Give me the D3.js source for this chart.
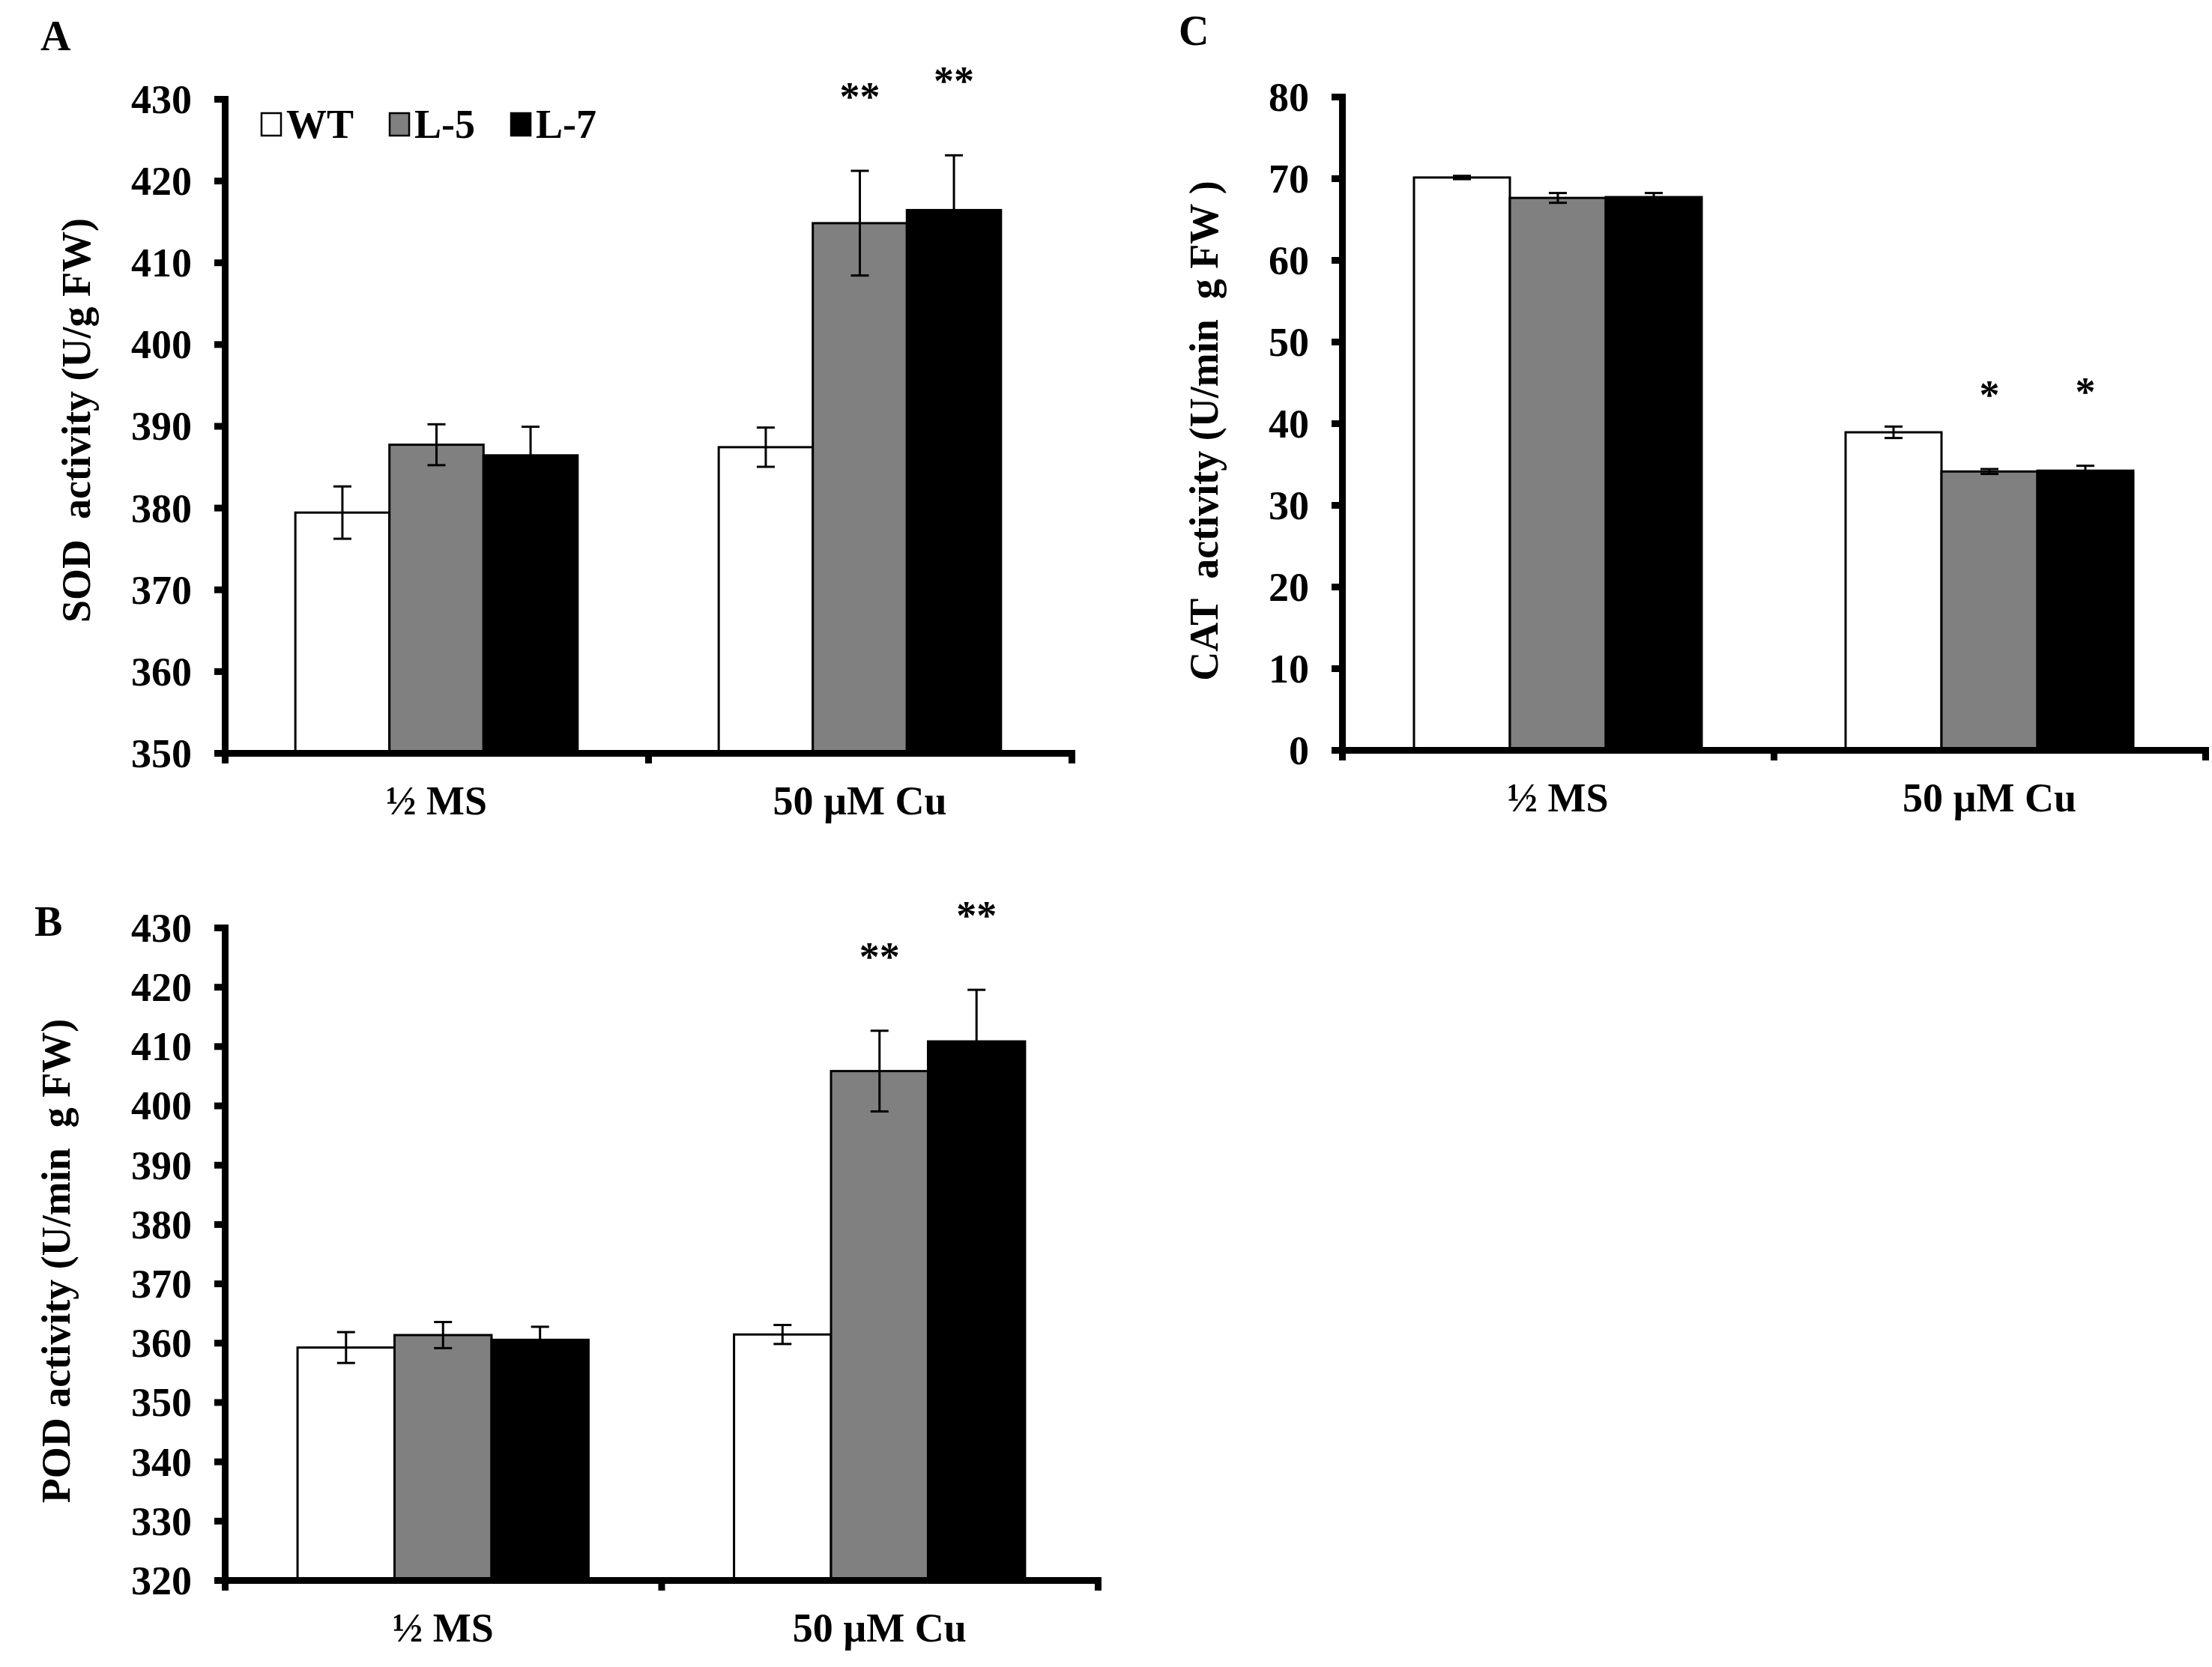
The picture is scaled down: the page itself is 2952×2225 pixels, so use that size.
<!DOCTYPE html>
<html lang="en">
<head>
<meta charset="utf-8">
<style>
  body { margin: 0; background: #fff; }
  svg text { font-family: "Liberation Serif", "Times New Roman", serif; font-weight: bold; fill: #000; }
</style>
</head>
<body>
<svg id="chart" width="2952" height="2225"></svg>
<script src="https://d3js.org/d3.v7.min.js"></script>
<script>
// categories on the x axis and the three lines
var groups = ["½ MS", "50 µM Cu"];
var lines = ["WT", "L-5", "L-7"];

// A - SOD activity, mean and error per [group][line]
var sodMean = [[379.4, 387.7, 386.4], [387.4, 414.8, 416.4]];
var sodErr  = [[3.2, 2.5, 3.5], [2.4, 6.4, 6.7]];
var sodSig  = [["", "", ""], ["", "**", "**"]];
var sodTicks = [350, 360, 370, 380, 390, 400, 410, 420, 430];

// B - POD activity
var podMean = [[359.2, 361.3, 360.5], [361.4, 405.8, 410.8]];
var podErr  = [[2.6, 2.2, 2.2], [1.6, 6.8, 8.7]];
var podSig  = [["", "", ""], ["", "**", "**"]];
var podTicks = [320, 330, 340, 350, 360, 370, 380, 390, 400, 410, 420, 430];

// C - CAT activity
var catMean = [[70.1, 67.6, 67.7], [38.9, 34.1, 34.2]];
var catErr  = [[0.2, 0.6, 0.5], [0.7, 0.3, 0.6]];
var catSig  = [["", "", ""], ["", "*", "*"]];
var catTicks = [0, 10, 20, 30, 40, 50, 60, 70, 80];

var fills = ["#ffffff", "#808080", "#000000"];
var FS = 54;

var svg = d3.select("#chart");
svg.append("rect").attr("width", 2952).attr("height", 2225).attr("fill", "#fff");

function panel(o) {
  var g = svg.append("g");

  var y = d3.scaleLinear()
      .domain([o.ticks[0], o.ticks[o.ticks.length - 1]])
      .range([o.bottom, o.top]);
  var x0 = d3.scaleBand().domain(groups).range([o.left, o.right])
      .paddingInner(1 / 3).paddingOuter(1 / 6);
  var x1 = d3.scaleBand().domain(lines).range([0, x0.bandwidth()]);

  var rows = [];
  groups.forEach(function(gr, i) {
    lines.forEach(function(ln, j) {
      rows.push({group: gr, line: ln, j: j, mean: o.mean[i][j], err: o.err[i][j], sig: o.sig[i][j]});
    });
  });
  var cx = function(d) { return x0(d.group) + x1(d.line) + x1.bandwidth() / 2; };

  // bars
  g.selectAll(".bar").data(rows).enter().append("rect")
      .attr("x", function(d) { return x0(d.group) + x1(d.line); })
      .attr("y", function(d) { return y(d.mean); })
      .attr("width", x1.bandwidth())
      .attr("height", function(d) { return o.bottom - y(d.mean); })
      .attr("fill", function(d) { return fills[d.j]; })
      .attr("stroke", "#000").attr("stroke-width", 3);

  // error bars
  var eb = g.selectAll(".err").data(rows).enter().append("g")
      .attr("stroke", "#000").attr("stroke-width", 3);
  eb.append("line")
      .attr("x1", cx).attr("x2", cx)
      .attr("y1", function(d) { return y(d.mean - d.err); })
      .attr("y2", function(d) { return y(d.mean + d.err); });
  [-1, 1].forEach(function(s) {
    eb.append("line")
        .attr("x1", function(d) { return cx(d) - 12; })
        .attr("x2", function(d) { return cx(d) + 12; })
        .attr("y1", function(d) { return y(d.mean + s * d.err); })
        .attr("y2", function(d) { return y(d.mean + s * d.err); });
  });

  // significance stars
  g.selectAll(".sig").data(rows.filter(function(d) { return d.sig; })).enter().append("text")
      .attr("x", cx)
      .attr("y", function(d) { return y(d.mean + d.err) - 81; })
      .attr("text-anchor", "middle")
      .attr("font-size", FS)
      .text(function(d) { return d.sig; });

  // y axis
  var ya = g.append("g")
      .attr("transform", "translate(" + o.left + ",0)")
      .call(d3.axisLeft(y).tickValues(o.ticks).tickSizeInner(14).tickSizeOuter(0).tickPadding(30));
  ya.attr("font-size", FS);
  ya.select(".domain").attr("stroke-width", 9).attr("stroke-linecap", "square");
  ya.selectAll(".tick line").attr("stroke-width", 9);
  ya.selectAll(".tick text").attr("dy", "0.34em");

  // x axis: ticks at the category boundaries
  var xb = d3.scaleLinear().domain([0, groups.length]).range([o.left, o.right]);
  var xa = g.append("g")
      .attr("transform", "translate(0," + o.bottom + ")")
      .call(d3.axisBottom(xb).tickValues(d3.range(groups.length + 1)).tickSizeInner(14).tickSizeOuter(0).tickFormat(""));
  xa.select(".domain").attr("stroke-width", 9).attr("stroke-linecap", "square");
  xa.selectAll(".tick line").attr("stroke-width", 9);

  // category labels
  g.selectAll(".cat").data(groups).enter().append("text")
      .attr("x", function(d) { return x0(d) + x0.bandwidth() / 2; })
      .attr("y", o.bottom + 82)
      .attr("text-anchor", "middle")
      .attr("font-size", FS)
      .text(function(d) { return d; });

  // axis title
  g.append("text")
      .attr("transform", "translate(" + o.titleX + "," + o.titleY + ") rotate(-90)")
      .attr("text-anchor", "middle")
      .attr("font-size", FS)
      .style("white-space", "pre")
      .text(o.title);

  // panel letter
  g.append("text")
      .attr("x", o.letterX).attr("y", o.letterY)
      .attr("font-size", 56)
      .text(o.letter);

  return g;
}

var gA = panel({
  mean: sodMean, err: sodErr, sig: sodSig, ticks: sodTicks,
  left: 300, right: 1430, top: 132, bottom: 1005,
  title: "SOD  activity (U/g FW)", titleX: 120, titleY: 561,
  letter: "A", letterX: 54, letterY: 67
});

panel({
  mean: podMean, err: podErr, sig: podSig, ticks: podTicks,
  left: 300, right: 1465, top: 1238, bottom: 2109,
  title: "POD activity (U/min  g FW)", titleX: 93, titleY: 1683,
  letter: "B", letterX: 46, letterY: 1249
});

panel({
  mean: catMean, err: catErr, sig: catSig, ticks: catTicks,
  left: 1791, right: 2943, top: 129, bottom: 1001,
  title: "CAT  activity (U/min  g FW )", titleX: 1625, titleY: 575,
  letter: "C", letterX: 1573, letterY: 60
});

// legend (panel A)
var lx = 349;
lines.forEach(function(ln, j) {
  gA.append("rect")
      .attr("x", lx).attr("y", 151).attr("width", 26).attr("height", 30)
      .attr("fill", fills[j]).attr("stroke", "#000").attr("stroke-width", 2.5);
  var t = gA.append("text")
      .attr("x", lx + 33).attr("y", 184)
      .attr("font-size", FS)
      .text(ln);
  lx += 33 + t.node().getComputedTextLength() + 48;
});
</script>
</body>
</html>
